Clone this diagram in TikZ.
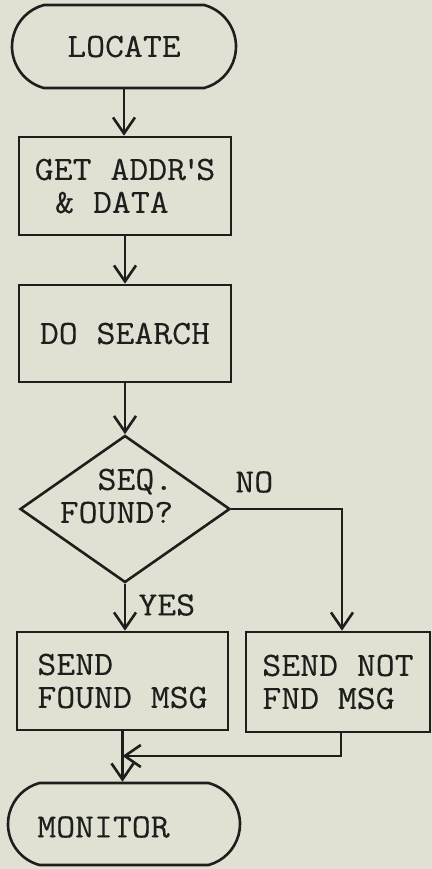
\documentclass[tikz,border=0pt]{standalone}
\usepackage{fontspec}
\setmonofont[FakeStretch=1.08,FakeBold=0.25]{Latin Modern Mono}
\usetikzlibrary{arrows.meta,shapes.geometric,shapes.misc}
\definecolor{paper}{RGB}{225,225,211}
\definecolor{ink}{RGB}{30,30,28}
\begin{document}
\begin{tikzpicture}[x=0.5pt,y=-0.5pt,
  every node/.style={font=\ttfamily\fontsize{17}{16.5}\selectfont, text=ink},
  flow/.style={draw=ink, line width=1.3pt},
  term/.style={flow, rounded rectangle, rounded rectangle arc length=150,
    minimum width=112pt, minimum height=41.5pt, inner sep=0pt},
  proc/.style={flow, rectangle, minimum width=106pt, minimum height=49pt,
    inner sep=0pt, align=left},
  decide/.style={flow, diamond, minimum width=105pt, minimum height=73.5pt,
    inner sep=0pt},
  lbl/.style={inner sep=0pt, anchor=west},
  arr/.style={draw=ink, line width=1.3pt,
    -{Straight Barb[length=8pt,width=11pt]}}
]
% sheet
\path[use as bounding box, fill=paper] (0,0) rectangle (432,869);

% main column
\node[term] (locate) at (124,46.5) {LOCATE};
\node[proc] (get) at (125,186) {GET ADDR\makebox[0.3em]{'}S\\\hspace*{0.6em}\& DATA};
\node[proc, minimum height=48.5pt] (search) at (125,333.5) {DO SEARCH};
\node[decide] (dec) at (125,509) {};
\node[inner sep=0pt, align=right] (dectext) at (116.5,496) {SEQ.\\FOUND?};
\node[proc, minimum width=105.5pt] (found) at (122.5,681) {SEND\\FOUND MSG};
\node[proc, minimum width=92pt, minimum height=50pt] (notfnd) at (338,682) {SEND NOT\\FND MSG};
\node[term, minimum width=116pt, minimum height=41pt] (monitor) at (124,824) {};
\node[inner sep=0pt] (montext) at (103.5,827) {MONITOR};

% branch labels
\node[lbl] (yes) at (138,605) {YES};
\node[lbl] (no) at (235,482) {NO};

% connectors
\draw[arr] (locate.south) -- (locate.south |- get.north);
\draw[arr] (get.south) -- (get.south |- search.north);
\draw[arr] (search.south) -- (search.south |- dec.north);
\coordinate (nocorner) at (342,509);
\draw[arr] (dec.east) -- (nocorner) -- (nocorner |- notfnd.north);
\draw[arr] (dec.south) -- (dec.south |- found.north);
\coordinate (joinR) at (341,756);
\coordinate (join) at (122.5,756);
\draw[arr] (joinR |- notfnd.south) -- (joinR) -- (join);
\draw[arr] (found.south) -- (found.south |- monitor.north);
\end{tikzpicture}
\end{document}
